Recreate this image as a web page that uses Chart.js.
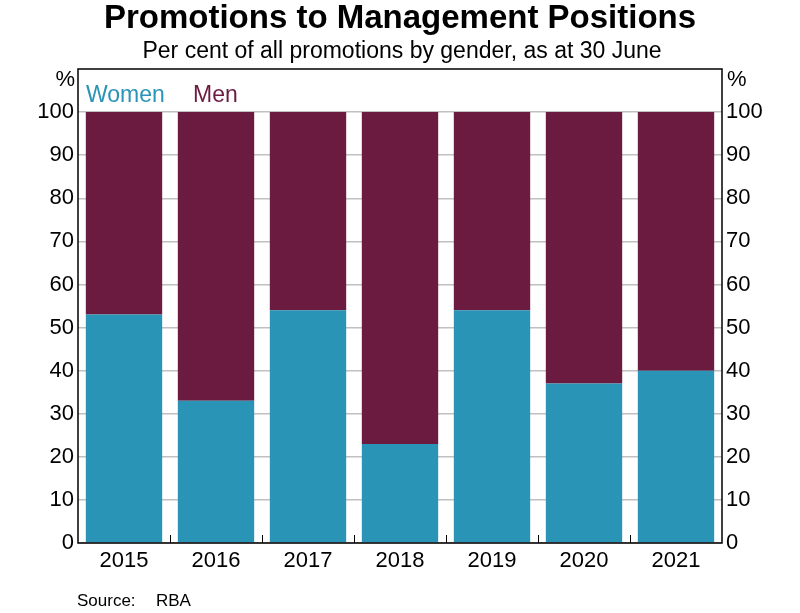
<!DOCTYPE html>
<html lang="en">
<head>
<meta charset="UTF-8">
<title>Promotions to Management Positions</title>
<script src="https://cdn.jsdelivr.net/npm/chart.js"></script>
<style>
  html, body { margin: 0; padding: 0; background: #fff; }
  #wrap { width: 800px; height: 613px; }
</style>
</head>
<body>
<div id="wrap"><canvas id="chart" width="800" height="613"></canvas></div>
<script>
const years = ['2015', '2016', '2017', '2018', '2019', '2020', '2021'];
const women = [53, 33, 54, 23, 54, 37, 40];
const men = [47, 67, 46, 77, 46, 63, 60];
const yTicks = [0, 10, 20, 30, 40, 50, 60, 70, 80, 90, 100];

const FONT = '"Liberation Sans", Arial, sans-serif';
const WOMEN_COL = '#2994b6';
const MEN_COL = '#6b1b40';

// title, subtitle, legend text, frame, inner x ticks, source
const decor = {
  id: 'decor',
  afterDraw(chart) {
    const ctx = chart.ctx;
    const a = chart.chartArea;
    ctx.save();
    ctx.fillStyle = '#000';
    ctx.textAlign = 'center';
    ctx.textBaseline = 'middle';
    ctx.font = 'bold 33px ' + FONT;
    ctx.fillText('Promotions to Management Positions', 400, 19);
    ctx.font = '23px ' + FONT;
    ctx.fillText('Per cent of all promotions by gender, as at 30 June', 402, 52);

    ctx.font = '22px ' + FONT;
    ctx.textAlign = 'right';
    ctx.fillText('%', a.left - 3, 80);
    ctx.textAlign = 'left';
    ctx.fillText('%', a.right + 5, 80);

    ctx.font = '23px ' + FONT;
    ctx.fillStyle = WOMEN_COL;
    ctx.fillText('Women', a.left + 8, 96);
    ctx.fillStyle = MEN_COL;
    ctx.fillText('Men', a.left + 115, 96);

    // frame
    ctx.strokeStyle = '#000';
    ctx.lineWidth = 1.5;
    ctx.strokeRect(a.left, a.top, a.right - a.left, a.bottom - a.top);

    // tick marks between categories, pointing up from the bottom axis
    const xs = chart.scales.x;
    const half = (xs.getPixelForValue(1) - xs.getPixelForValue(0)) / 2;
    ctx.lineWidth = 1;
    for (let i = 0; i < years.length - 1; i++) {
      const px = Math.round(xs.getPixelForValue(i) + half) + 0.5;
      ctx.beginPath();
      ctx.moveTo(px, a.bottom);
      ctx.lineTo(px, a.bottom - 8);
      ctx.stroke();
    }

    ctx.fillStyle = '#000';
    ctx.font = '17px ' + FONT;
    ctx.textAlign = 'left';
    ctx.fillText('Source:', 77, 601);
    ctx.fillText('RBA', 156, 601);
    ctx.restore();
  }
};

const yCommon = {
  min: 0,
  max: 110,
  afterBuildTicks(scale) { scale.ticks = yTicks.map(v => ({ value: v })); },
  border: { display: false },
  ticks: { color: '#000', font: { family: FONT, size: 22 }, padding: 4 }
};

new Chart(document.getElementById('chart'), {
  type: 'bar',
  data: {
    labels: years,
    datasets: [{
      label: 'Women',
      data: women,
      backgroundColor: WOMEN_COL,
      borderWidth: 0
    }, {
      label: 'Men',
      data: men,
      backgroundColor: MEN_COL,
      borderWidth: 0
    }]
  },
  options: {
    responsive: false,
    animation: false,
    layout: { padding: { top: 69, bottom: 0, left: 0, right: 0 } },
    plugins: { legend: { display: false }, tooltip: { enabled: false }, title: { display: false } },
    datasets: { bar: { barPercentage: 0.83, categoryPercentage: 1 } },
    scales: {
      x: {
        stacked: true,
        grid: { display: false, drawTicks: false },
        border: { display: false },
        ticks: { color: '#000', font: { family: FONT, size: 22 }, padding: 5, maxRotation: 0 },
        afterFit(scale) { scale.height = 70; }
      },
      y: Object.assign({}, yCommon, {
        stacked: true,
        position: 'left',
        grid: { color: '#c0c0c0', lineWidth: 1.5, drawTicks: false },
        afterFit(scale) { scale.width = 78; }
      }),
      y2: Object.assign({}, yCommon, {
        position: 'right',
        grid: { display: false, drawTicks: false },
        afterFit(scale) { scale.width = 78; }
      })
    }
  },
  plugins: [decor]
});
</script>
</body>
</html>
